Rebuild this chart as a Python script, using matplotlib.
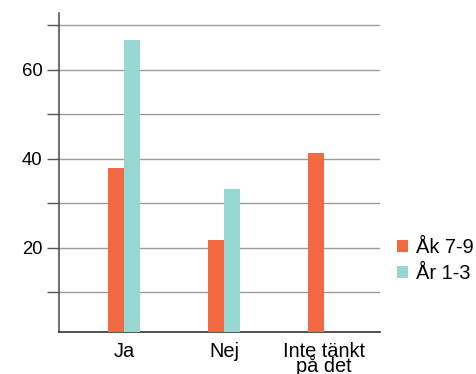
import numpy as np
import matplotlib.pyplot as plt

plt.rcParams['font.family'] = ['Liberation Sans', 'DejaVu Sans']

# Data
categories = ["Ja", "Nej", "Inte tänkt\npå det"]
series_names = ["Åk 7-9", "År 1-3"]
ak_7_9 = [38.0, 21.8, 41.4]
ar_1_3 = [66.8, 33.3, 0]
colors = ["#F26A43", "#98D6D2"]

fig = plt.figure(figsize=(4.77, 3.74), dpi=100)
ax = fig.add_axes([0.1237, 0.1123, 0.6729, 0.853])

x = np.arange(len(categories))
w = 0.156
ax.bar(x - w / 2, ak_7_9, width=w, color=colors[0], label=series_names[0], zorder=3)
ax.bar(x + w / 2, ar_1_3, width=w, color=colors[1], label=series_names[1], zorder=3)

ax.set_xlim(-0.65, 2.56)
ax.set_ylim(1.1, 72.8)

ax.set_yticks([10, 20, 30, 40, 50, 60, 70])
ax.set_yticklabels(["", "20", "", "40", "", "60", ""])
ax.grid(axis="y", color="#9a9a9a", linewidth=1, zorder=0)
ax.tick_params(axis="y", length=9, width=1, color="#555555", labelsize=13.3, pad=3)

ax.set_xticks(x)
ax.set_xticklabels(categories, linespacing=0.62)
ax.tick_params(axis="x", length=0, labelsize=14.4, pad=7.5)

for s in ["top", "right"]:
    ax.spines[s].set_visible(False)
ax.spines["left"].set_color("#555555")
ax.spines["bottom"].set_color("#333333")
ax.spines["left"].set_linewidth(1.2)
ax.spines["bottom"].set_linewidth(1.2)

fig.legend(loc="upper left", bbox_to_anchor=(0.815, 0.385), frameon=False,
           fontsize=14.4, handlelength=0.55, handleheight=0.55, handletextpad=0.4,
           labelspacing=0.35, borderaxespad=0)

fig.savefig("out.png", dpi=100)
